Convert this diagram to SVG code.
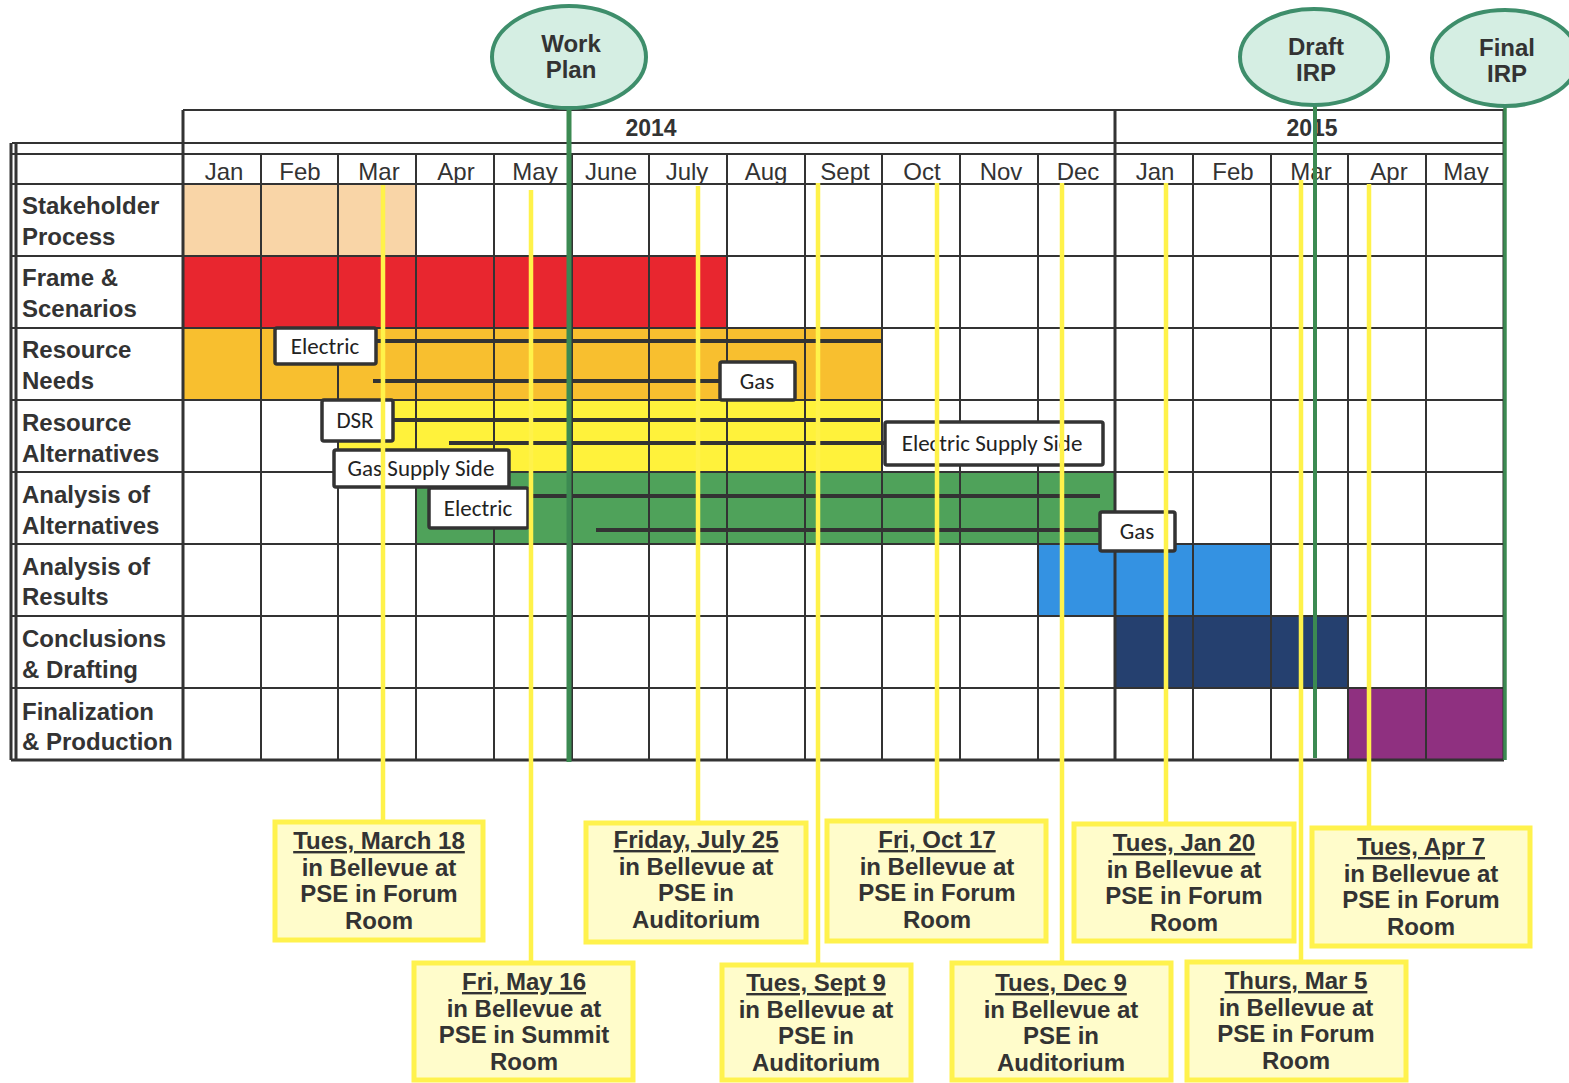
<svg xmlns="http://www.w3.org/2000/svg" width="1569" height="1083" viewBox="0 0 1569 1083">
<style>
  text { font-family: "Liberation Sans", Arial, sans-serif; fill: #333; }
  .grid { stroke: #333; stroke-width: 2; fill: none; }
  .gridb { stroke: #333; stroke-width: 3; fill: none; }
  .month { font-size: 24px; text-anchor: middle; }
  .year { font-size: 23px; font-weight: bold; text-anchor: middle; }
  .row { font-size: 24px; font-weight: bold; }
  .ms { fill: #D5EEE3; stroke: #3E8E6B; stroke-width: 4; }
  .mst { font-size: 24px; font-weight: bold; text-anchor: middle; }
  .msl { stroke: #3C8A52; fill: none; }
  .bar { stroke: #333; stroke-width: 4; fill: none; }
  .lbl { fill: #fff; stroke: #333; stroke-width: 3.5; }
  .lblt { font-family: "Carlito", "Liberation Sans", sans-serif; font-size: 23px; text-anchor: middle; fill: #222; }
  .yl { stroke: #FFF24A; stroke-width: 4.5; fill: none; }
  .mb { fill: #FFFCCB; stroke: #FFF24D; stroke-width: 5; }
  .mbt { font-size: 24px; font-weight: bold; text-anchor: middle; }
</style>

<!-- colored activity bars -->
<g id="bars">
  <rect x="183" y="184" width="233" height="72" fill="#F9D5A7"/>
  <rect x="183" y="256" width="544" height="72" fill="#E8262F"/>
  <rect x="183" y="328" width="700" height="72" fill="#F8BF2F"/>
  <rect x="339" y="400" width="544" height="72" fill="#FFF23B"/>
  <rect x="416" y="472" width="699" height="72" fill="#4FA25A"/>
  <rect x="1038" y="544" width="233" height="72" fill="#3492E2"/>
  <rect x="1115" y="616" width="233" height="72" fill="#25406F"/>
  <rect x="1348" y="688" width="156" height="72" fill="#8F3080"/>
</g>

<!-- table grid -->
<g id="grid">
  <path class="grid" d="M183 110 H1504 M12 143 H1504 M12 154 H1504 M12 184 H1504 M12 256 H1504 M12 328 H1504 M12 400 H1504 M12 472 H1504 M12 544 H1504 M12 616 H1504 M12 688 H1504"/>
  <path class="gridb" d="M11 760 H1504 M11 143 V760 M16 143 V760 M183 110 V760 M1115 110 V760 M1504 110 V760"/>
  <path class="grid" d="M261 154 V760 M338 154 V760 M416 154 V760 M494 154 V760 M572 154 V760 M649 154 V760 M727 154 V760 M805 154 V760 M882 154 V760 M960 154 V760 M1038 154 V760 M1193 154 V760 M1271 154 V760 M1348 154 V760 M1426 154 V760"/>
</g>

<g id="header">
  <text class="year" x="651" y="136">2014</text>
  <text class="year" x="1312" y="136">2015</text>
  <text class="month" x="224" y="180">Jan</text>
  <text class="month" x="300" y="180">Feb</text>
  <text class="month" x="379" y="180">Mar</text>
  <text class="month" x="456" y="180">Apr</text>
  <text class="month" x="535" y="180">May</text>
  <text class="month" x="611" y="180">June</text>
  <text class="month" x="687" y="180">July</text>
  <text class="month" x="766" y="180">Aug</text>
  <text class="month" x="845" y="180">Sept</text>
  <text class="month" x="922" y="180">Oct</text>
  <text class="month" x="1001" y="180">Nov</text>
  <text class="month" x="1078" y="180">Dec</text>
  <text class="month" x="1155" y="180">Jan</text>
  <text class="month" x="1233" y="180">Feb</text>
  <text class="month" x="1311" y="180">Mar</text>
  <text class="month" x="1389" y="180">Apr</text>
  <text class="month" x="1466" y="180">May</text>
</g>

<g id="row-labels">
  <text class="row" x="22" y="214">Stakeholder</text>
  <text class="row" x="22" y="245">Process</text>
  <text class="row" x="22" y="286">Frame &amp;</text>
  <text class="row" x="22" y="317">Scenarios</text>
  <text class="row" x="22" y="358">Resource</text>
  <text class="row" x="22" y="389">Needs</text>
  <text class="row" x="22" y="431">Resource</text>
  <text class="row" x="22" y="462">Alternatives</text>
  <text class="row" x="22" y="503">Analysis of</text>
  <text class="row" x="22" y="534">Alternatives</text>
  <text class="row" x="22" y="575">Analysis of</text>
  <text class="row" x="22" y="605">Results</text>
  <text class="row" x="22" y="647">Conclusions</text>
  <text class="row" x="22" y="678">&amp; Drafting</text>
  <text class="row" x="22" y="720">Finalization</text>
  <text class="row" x="22" y="750">&amp; Production</text>
</g>

<!-- sub-activity timelines -->
<g id="timelines">
  <path class="bar" d="M376 341 H883"/>
  <path class="bar" d="M373 381 H720"/>
  <path class="bar" d="M393 420 H880"/>
  <path class="bar" d="M449 443 H884"/>
  <path class="bar" d="M527 496 H1100"/>
  <path class="bar" d="M596 530 H1100"/>
</g>

<g id="lbl-electric-needs"><rect class="lbl" x="275" y="328" width="101" height="36" rx="2"/><text class="lblt" x="325" y="354">Electric</text></g>
<g id="lbl-gas-needs"><rect class="lbl" x="720" y="362" width="75" height="38" rx="2"/><text class="lblt" x="757" y="389">Gas</text></g>
<g id="lbl-dsr"><rect class="lbl" x="322" y="400" width="71" height="41" rx="2"/><text class="lblt" x="355" y="428">DSR</text></g>
<g id="lbl-electric-supply"><rect class="lbl" x="885" y="422" width="218" height="43" rx="2"/><text class="lblt" x="992" y="451">Electric Supply Side</text></g>
<g id="lbl-gas-supply"><rect class="lbl" x="334" y="450" width="175" height="37" rx="2"/><text class="lblt" x="421" y="476">Gas Supply Side</text></g>
<g id="lbl-electric-analysis"><rect class="lbl" x="429" y="488" width="99" height="40" rx="2"/><text class="lblt" x="478" y="516">Electric</text></g>
<g id="lbl-gas-analysis"><rect class="lbl" x="1100" y="512" width="75" height="39" rx="2"/><text class="lblt" x="1137" y="539">Gas</text></g>

<!-- connectors: milestone lines and meeting lines -->
<g id="connectors">
  <path class="msl" stroke-width="5" d="M569 105 V762"/>
  <path class="msl" stroke-width="4" d="M1315 104 V758"/>
  <path class="msl" stroke-width="3.5" d="M1505 106 V760"/>
  <path class="yl" d="M383 185 V822"/>
  <path class="yl" d="M531 190 V963"/>
  <path class="yl" d="M698 186 V822"/>
  <path class="yl" d="M818 183 V965"/>
  <path class="yl" d="M937 183 V821"/>
  <path class="yl" d="M1062 183 V963"/>
  <path class="yl" d="M1166 183 V824"/>
  <path class="yl" d="M1301 180 V962"/>
  <path class="yl" d="M1369 184 V828"/>
</g>

<g id="ms-workplan"><ellipse class="ms" cx="569" cy="57" rx="77" ry="51"/><text class="mst" x="571" y="52">Work</text><text class="mst" x="571" y="78">Plan</text></g>
<g id="ms-draft"><ellipse class="ms" cx="1314" cy="57" rx="74" ry="48"/><text class="mst" x="1316" y="55">Draft</text><text class="mst" x="1316" y="81">IRP</text></g>
<g id="ms-final"><ellipse class="ms" cx="1505" cy="58" rx="73" ry="48"/><text class="mst" x="1507" y="56">Final</text><text class="mst" x="1507" y="82">IRP</text></g>

<g id="mtg-mar18"><rect class="mb" x="275" y="822" width="208" height="118"/>
  <text class="mbt" x="379" y="849"><tspan text-decoration="underline">Tues, March 18</tspan><tspan x="379" dy="26.5">in Bellevue at</tspan><tspan x="379" dy="26.5">PSE in Forum</tspan><tspan x="379" dy="26.5">Room</tspan></text></g>
<g id="mtg-may16"><rect class="mb" x="414" y="963" width="219" height="117"/>
  <text class="mbt" x="524" y="990"><tspan text-decoration="underline">Fri, May 16</tspan><tspan x="524" dy="26.5">in Bellevue at</tspan><tspan x="524" dy="26.5">PSE in Summit</tspan><tspan x="524" dy="26.5">Room</tspan></text></g>
<g id="mtg-jul25"><rect class="mb" x="586" y="823" width="220" height="119"/>
  <text class="mbt" x="696" y="848"><tspan text-decoration="underline">Friday, July 25</tspan><tspan x="696" dy="26.5">in Bellevue at</tspan><tspan x="696" dy="26.5">PSE in</tspan><tspan x="696" dy="26.5">Auditorium</tspan></text></g>
<g id="mtg-sep9"><rect class="mb" x="722" y="965" width="189" height="115"/>
  <text class="mbt" x="816" y="991"><tspan text-decoration="underline">Tues, Sept 9</tspan><tspan x="816" dy="26.5">in Bellevue at</tspan><tspan x="816" dy="26.5">PSE in</tspan><tspan x="816" dy="26.5">Auditorium</tspan></text></g>
<g id="mtg-oct17"><rect class="mb" x="827" y="821" width="219" height="120"/>
  <text class="mbt" x="937" y="848"><tspan text-decoration="underline">Fri, Oct 17</tspan><tspan x="937" dy="26.5">in Bellevue at</tspan><tspan x="937" dy="26.5">PSE in Forum</tspan><tspan x="937" dy="26.5">Room</tspan></text></g>
<g id="mtg-dec9"><rect class="mb" x="952" y="963" width="219" height="117"/>
  <text class="mbt" x="1061" y="991"><tspan text-decoration="underline">Tues, Dec 9</tspan><tspan x="1061" dy="26.5">in Bellevue at</tspan><tspan x="1061" dy="26.5">PSE in</tspan><tspan x="1061" dy="26.5">Auditorium</tspan></text></g>
<g id="mtg-jan20"><rect class="mb" x="1074" y="824" width="220" height="117"/>
  <text class="mbt" x="1184" y="851"><tspan text-decoration="underline">Tues, Jan 20</tspan><tspan x="1184" dy="26.5">in Bellevue at</tspan><tspan x="1184" dy="26.5">PSE in Forum</tspan><tspan x="1184" dy="26.5">Room</tspan></text></g>
<g id="mtg-mar5"><rect class="mb" x="1187" y="962" width="219" height="118"/>
  <text class="mbt" x="1296" y="989"><tspan text-decoration="underline">Thurs, Mar 5</tspan><tspan x="1296" dy="26.5">in Bellevue at</tspan><tspan x="1296" dy="26.5">PSE in Forum</tspan><tspan x="1296" dy="26.5">Room</tspan></text></g>
<g id="mtg-apr7"><rect class="mb" x="1312" y="828" width="218" height="118"/>
  <text class="mbt" x="1421" y="855"><tspan text-decoration="underline">Tues, Apr 7</tspan><tspan x="1421" dy="26.5">in Bellevue at</tspan><tspan x="1421" dy="26.5">PSE in Forum</tspan><tspan x="1421" dy="26.5">Room</tspan></text></g>
</svg>
